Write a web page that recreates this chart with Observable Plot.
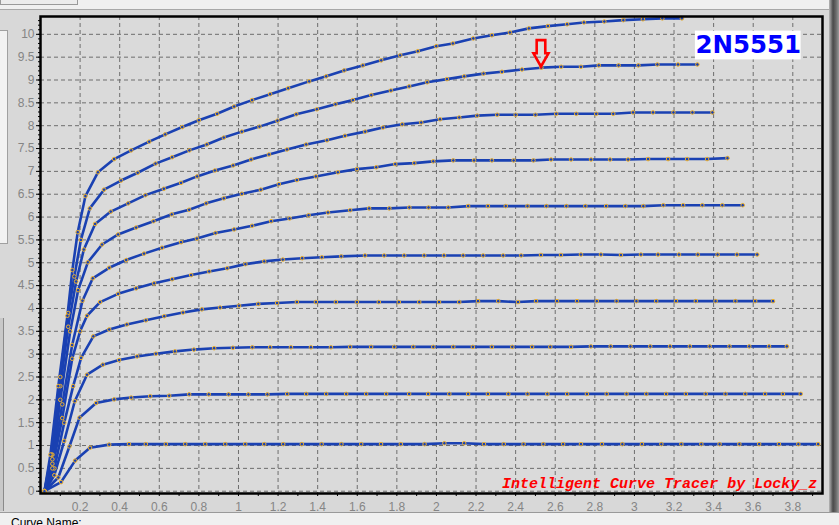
<!DOCTYPE html>
<html><head><meta charset="utf-8">
<script src="https://cdn.jsdelivr.net/npm/d3@7"></script>
<script src="https://cdn.jsdelivr.net/npm/@observablehq/plot@0.6"></script>
<style>
body{margin:0;width:839px;height:525px;overflow:hidden;background:#f0f0f0;font-family:"Liberation Sans",Arial,sans-serif;position:relative}
#topbtn{position:absolute;left:0;top:-6px;width:76px;height:9px;border:1px solid #9a9a9a;background:#ececec}
#panel{position:absolute;left:0;top:9px;width:839px;height:503px;background:#d8d8d8;border-top:1px solid #a8a8a8}
#leftA{position:absolute;left:0;top:30px;width:7px;height:212px;background:#f2f2f2;border:1px solid #a0a0a0;border-left:none}
#leftB{position:absolute;left:0;top:318px;width:3px;height:193px;background:#c8c8c8;border-right:1px solid #8a8a8a}
#rightbar{position:absolute;left:829px;top:0;width:10px;height:512px;background:linear-gradient(90deg,#b8b8b8,#4a4a4a 40%,#6a6a6a 70%,#9a9a9a)}
#bottom{position:absolute;left:0;top:512px;width:839px;height:13px;background:#f0f0f0;border-top:1px solid #9a9a9a}
#bottom span{position:absolute;left:11px;top:3px;font-size:12px;line-height:14px;color:#000}
#chart{position:absolute;left:0;top:0}
</style></head>
<body>
<div id="topbtn"></div>
<div id="panel"></div>
<div id="leftA"></div>
<div id="leftB"></div>
<div id="rightbar"></div>
<div id="bottom"><span>Curve Name:</span></div>
<div id="chart"></div>
<script>
// Collector current (mA) vs collector-emitter voltage (V) for 10 base-current steps
const ib1 = [[0.02,0],[0.104,0.20],[0.175,0.67],[0.25,0.95],[0.347,1.02],[0.447,1.03],[0.532,1.03],[0.633,1.03],[0.731,1.03],[0.832,1.03],[0.933,1.03],[1.034,1.03],[1.13,1.03],[1.226,1.03],[1.32,1.03],[1.42,1.03],[1.52,1.03],[1.62,1.03],[1.72,1.03],[1.82,1.03],[1.94,1.03],[2.04,1.05],[2.14,1.05],[2.24,1.03],[2.34,1.03],[2.44,1.03],[2.54,1.03],[2.64,1.03],[2.73,1.03],[2.836,1.03],[2.939,1.03],[3.038,1.03],[3.136,1.03],[3.237,1.03],[3.338,1.03],[3.43,1.03],[3.53,1.03],[3.63,1.03],[3.73,1.03],[3.828,1.03],[3.928,1.03]];
const ib2 = [[0.02,0],[0.09,0.3],[0.146,0.98],[0.197,1.61],[0.281,1.93],[0.372,2.01],[0.458,2.05],[0.554,2.08],[0.65,2.09],[0.751,2.12],[0.85,2.12],[0.95,2.12],[1.05,2.12],[1.146,2.12],[1.246,2.13],[1.342,2.13],[1.443,2.13],[1.544,2.13],[1.645,2.13],[1.746,2.13],[1.862,2.13],[1.958,2.13],[2.065,2.13],[2.16,2.13],[2.26,2.13],[2.363,2.13],[2.46,2.13],[2.56,2.13],[2.66,2.13],[2.76,2.13],[2.86,2.13],[2.96,2.13],[3.06,2.13],[3.16,2.13],[3.26,2.13],[3.36,2.13],[3.46,2.13],[3.56,2.13],[3.66,2.13],[3.75,2.13],[3.84,2.13]];
const ib3 = [[0.02,0],[0.07,0.35],[0.12,1.1],[0.173,1.97],[0.235,2.55],[0.315,2.77],[0.397,2.87],[0.488,2.95],[0.583,3.01],[0.679,3.06],[0.775,3.10],[0.877,3.13],[0.972,3.14],[1.07,3.15],[1.16,3.15],[1.265,3.15],[1.366,3.15],[1.467,3.15],[1.564,3.16],[1.67,3.16],[1.787,3.16],[1.883,3.16],[1.984,3.16],[2.085,3.16],[2.184,3.16],[2.28,3.16],[2.383,3.16],[2.483,3.16],[2.575,3.16],[2.68,3.16],[2.78,3.17],[2.88,3.17],[2.98,3.17],[3.08,3.17],[3.18,3.17],[3.28,3.17],[3.38,3.17],[3.48,3.17],[3.58,3.17],[3.68,3.17],[3.77,3.17]];
const ib4 = [[0.02,0],[0.07,0.5],[0.12,1.5],[0.165,2.3],[0.205,2.92],[0.267,3.39],[0.347,3.54],[0.436,3.65],[0.532,3.74],[0.625,3.83],[0.72,3.91],[0.815,3.98],[0.907,4.02],[1.003,4.06],[1.10,4.10],[1.195,4.12],[1.295,4.14],[1.391,4.14],[1.492,4.14],[1.598,4.14],[1.709,4.14],[1.81,4.14],[1.913,4.14],[2.013,4.14],[2.115,4.14],[2.21,4.16],[2.312,4.16],[2.412,4.14],[2.503,4.16],[2.609,4.16],[2.71,4.16],[2.81,4.16],[2.91,4.16],[3.01,4.16],[3.11,4.16],[3.21,4.16],[3.31,4.16],[3.41,4.16],[3.51,4.16],[3.61,4.16],[3.70,4.16]];
const ib5 = [[0.02,0],[0.06,0.5],[0.11,1.6],[0.16,2.9],[0.2,3.5],[0.235,3.84],[0.301,4.14],[0.392,4.32],[0.483,4.44],[0.574,4.55],[0.665,4.64],[0.761,4.73],[0.852,4.81],[0.943,4.88],[1.035,4.97],[1.13,5.03],[1.224,5.07],[1.322,5.10],[1.421,5.12],[1.519,5.14],[1.639,5.16],[1.736,5.16],[1.837,5.16],[1.938,5.16],[2.038,5.16],[2.135,5.16],[2.236,5.16],[2.337,5.16],[2.428,5.16],[2.528,5.17],[2.629,5.17],[2.73,5.18],[2.831,5.18],[2.932,5.17],[3.033,5.18],[3.119,5.18],[3.225,5.18],[3.32,5.18],[3.42,5.18],[3.518,5.18],[3.62,5.18]];
const ib6 = [[0.02,0],[0.06,0.6],[0.11,1.9],[0.16,3.2],[0.212,4.17],[0.264,4.66],[0.347,4.89],[0.433,5.06],[0.523,5.20],[0.614,5.33],[0.71,5.45],[0.79,5.53],[0.884,5.65],[0.978,5.73],[1.069,5.81],[1.165,5.91],[1.258,5.97],[1.354,6.04],[1.452,6.10],[1.564,6.15],[1.66,6.19],[1.762,6.19],[1.863,6.21],[1.96,6.21],[2.06,6.21],[2.16,6.24],[2.26,6.24],[2.35,6.24],[2.46,6.24],[2.555,6.24],[2.656,6.24],[2.752,6.24],[2.857,6.24],[2.954,6.24],[3.045,6.24],[3.146,6.26],[3.246,6.26],[3.343,6.26],[3.444,6.26],[3.547,6.26]];
const ib7 = [[0.02,0],[0.06,0.7],[0.1,2.0],[0.15,3.5],[0.19,4.4],[0.239,5.01],[0.311,5.40],[0.392,5.62],[0.483,5.77],[0.571,5.91],[0.663,6.06],[0.751,6.16],[0.837,6.30],[0.926,6.41],[1.017,6.51],[1.113,6.60],[1.204,6.72],[1.295,6.81],[1.391,6.89],[1.502,6.98],[1.598,7.05],[1.696,7.09],[1.792,7.16],[1.888,7.18],[1.984,7.22],[2.085,7.24],[2.19,7.24],[2.28,7.24],[2.39,7.24],[2.49,7.24],[2.579,7.26],[2.68,7.26],[2.781,7.26],[2.877,7.26],[2.968,7.26],[3.069,7.27],[3.17,7.27],[3.266,7.27],[3.367,7.27],[3.47,7.29]];
const ib8 = [[0.02,0],[0.06,0.8],[0.1,2.3],[0.14,3.6],[0.18,4.59],[0.219,5.29],[0.276,5.85],[0.355,6.12],[0.443,6.30],[0.53,6.48],[0.623,6.62],[0.71,6.75],[0.791,6.89],[0.881,7.02],[0.973,7.13],[1.064,7.26],[1.154,7.37],[1.245,7.48],[1.342,7.59],[1.447,7.68],[1.538,7.78],[1.64,7.87],[1.73,7.96],[1.827,8.03],[1.923,8.07],[2.018,8.14],[2.115,8.18],[2.206,8.22],[2.307,8.24],[2.40,8.24],[2.50,8.24],[2.605,8.26],[2.706,8.26],[2.807,8.26],[2.893,8.26],[2.993,8.29],[3.094,8.29],[3.197,8.29],[3.293,8.29],[3.394,8.29]];
const ib9 = [[0.02,0],[0.055,0.8],[0.1,2.5],[0.14,3.9],[0.171,4.70],[0.204,5.50],[0.249,6.19],[0.321,6.60],[0.407,6.80],[0.491,6.97],[0.581,7.17],[0.665,7.31],[0.752,7.46],[0.84,7.59],[0.926,7.74],[1.017,7.87],[1.106,7.98],[1.197,8.11],[1.292,8.25],[1.396,8.36],[1.49,8.47],[1.578,8.56],[1.671,8.67],[1.77,8.77],[1.862,8.86],[1.953,8.95],[2.053,9.02],[2.14,9.08],[2.238,9.14],[2.331,9.18],[2.432,9.23],[2.53,9.27],[2.63,9.29],[2.73,9.29],[2.82,9.32],[2.92,9.32],[3.02,9.32],[3.116,9.34],[3.22,9.34],[3.318,9.34]];
const ib10 = [[0.02,0],[0.05,0.8],[0.09,2.3],[0.136,3.84],[0.161,4.84],[0.188,5.67],[0.227,6.46],[0.29,6.98],[0.372,7.27],[0.458,7.46],[0.549,7.65],[0.63,7.81],[0.716,7.97],[0.80,8.12],[0.892,8.26],[0.978,8.42],[1.069,8.56],[1.16,8.69],[1.251,8.82],[1.357,8.97],[1.443,9.08],[1.534,9.21],[1.628,9.32],[1.721,9.43],[1.817,9.54],[1.906,9.63],[1.999,9.74],[2.083,9.80],[2.186,9.91],[2.28,9.98],[2.371,10.04],[2.467,10.13],[2.563,10.18],[2.66,10.22],[2.745,10.26],[2.848,10.28],[2.944,10.31],[3.043,10.33],[3.141,10.35],[3.24,10.35]];

const xTicks = [0.2,0.4,0.6,0.8,1,1.2,1.4,1.6,1.8,2,2.2,2.4,2.6,2.8,3,3.2,3.4,3.6,3.8];
const yTicks = [0,0.5,1,1.5,2,2.5,3,3.5,4,4.5,5,5.5,6,6.5,7,7.5,8,8.5,9,9.5,10];
const xMinor = d3.range(1, 40).map(d => d / 10);
const yMinor = d3.range(0, 104).map(d => d / 10);

const partLabel = [{text: "2N5551", x: 3.575, y: 9.755}];
const partBox = [{x1: 3.308, x2: 3.842, y1: 9.44, y2: 10.07}];
const arrowTip = [{x: 2.528, y: 9.267}];
const credit = [{text: "Intelligent Curve Tracer by Locky_z", x: 3.923, y: 0.186}];

const curves = [ib1, ib2, ib3, ib4, ib5, ib6, ib7, ib8, ib9, ib10];
const series = curves.flatMap((pts, i) => pts.map(([x, y]) => ({curve: i, x, y})));

const arrowSymbol = {
  draw(ctx) {
    ctx.moveTo(0, -1.3);
    ctx.lineTo(-7.5, -14.5);
    ctx.lineTo(-4.3, -14.5);
    ctx.lineTo(-4.3, -27.7);
    ctx.lineTo(4.3, -27.7);
    ctx.lineTo(4.3, -14.5);
    ctx.lineTo(7.5, -14.5);
    ctx.closePath();
  }
};

const fmt = d => String(+d.toFixed(2));
const blank = () => "";
const blue = "#1a41b2";

const chart = Plot.plot({
  width: 839, height: 512,
  marginLeft: 40, marginRight: 17, marginTop: 16, marginBottom: 19,
  style: {background: "transparent", fontFamily: "'Liberation Sans', Arial, sans-serif", fontSize: "12px", color: "#858585", overflow: "visible"},
  x: {domain: [0, 3.95]},
  y: {domain: [-0.05, 10.39]},
  marks: [
    Plot.frame({fill: "#dadada"}),
    Plot.gridX(xTicks, {stroke: "#6e6e6e", strokeOpacity: 1, strokeDasharray: "4,3"}),
    Plot.gridY(yTicks, {stroke: "#6e6e6e", strokeOpacity: 1, strokeDasharray: "4,3"}),
    Plot.axisX(xMinor, {tickSize: 3, tickFormat: blank, stroke: "#000", label: null}),
    Plot.axisY(yMinor, {tickSize: 2, tickFormat: blank, stroke: "#000", label: null}),
    Plot.axisY(yTicks, {tickSize: 4, tickPadding: 2, tickFormat: fmt, fill: "#858585", stroke: "#000", label: null, fontSize: 12}),
    Plot.axisX(xTicks, {tickSize: 0, tickPadding: 9, tickFormat: fmt, fill: "#858585", label: null, fontSize: 12}),
    Plot.line(series, {x: "x", y: "y", z: "curve", stroke: blue, strokeWidth: 2.6}),
    Plot.dot(series, {x: "x", y: "y", r: 1.8, stroke: "#f0b22a", fill: blue, strokeWidth: 1}),
    Plot.frame({stroke: "#000", strokeWidth: 2.5}),
    Plot.rect(partBox, {x1: "x1", x2: "x2", y1: "y1", y2: "y2", fill: "#ffffff"}),
    Plot.text(partLabel, {x: "x", y: "y", text: "text", fill: "#0000ff", fontSize: 24.5, fontWeight: "bold", fontFamily: "'DejaVu Sans', sans-serif"}),
    Plot.dot(arrowTip, {x: "x", y: "y", symbol: arrowSymbol, r: 10, stroke: "#ff0000", strokeWidth: 2.6, fill: "none"}),
    Plot.text(credit, {x: "x", y: "y", text: "text", textAnchor: "end", fill: "#ff0000", fontSize: 15, fontStyle: "italic", fontWeight: "bold", fontFamily: "'Liberation Mono', monospace"})
  ]
});
document.getElementById("chart").append(chart);
</script>
</body></html>
